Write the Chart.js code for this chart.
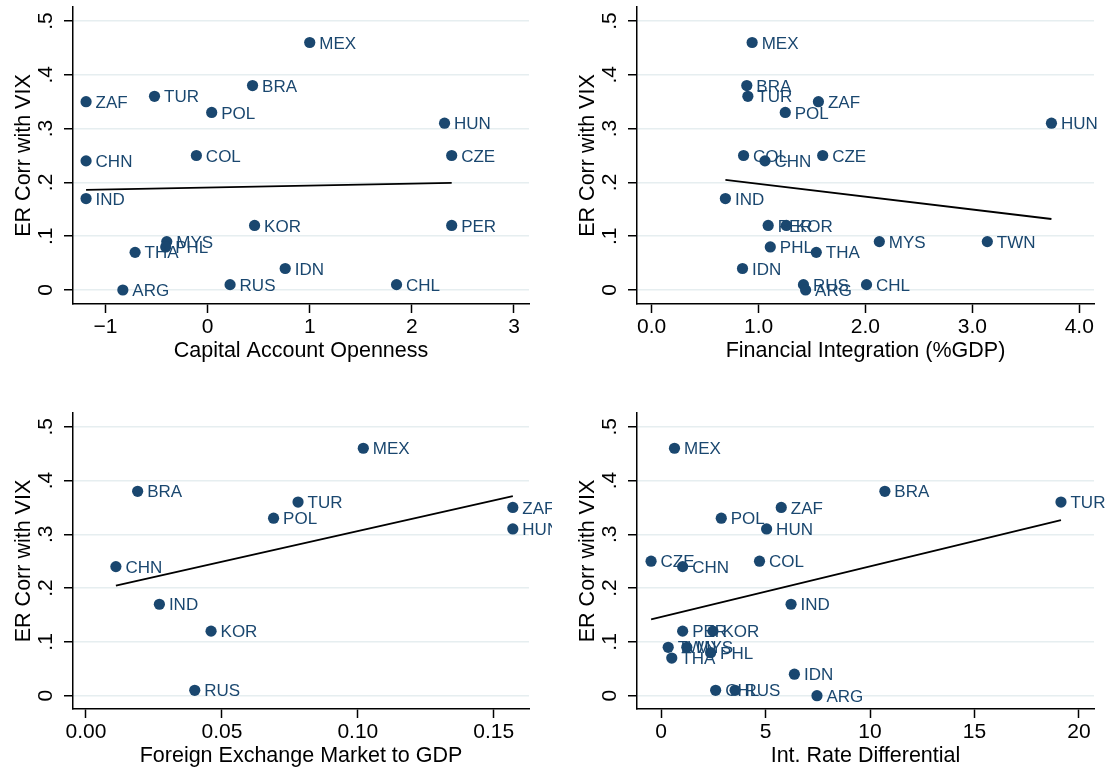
<!DOCTYPE html>
<html>
<head>
<meta charset="utf-8">
<script src="https://cdn.jsdelivr.net/npm/chart.js@4.4.1/dist/chart.umd.min.js"></script>
<style>
  body { margin: 0; background: #fff; }
  #wrap { position: relative; width: 1112px; height: 770px; background: #fff; }
  canvas { position: absolute; }
</style>
</head>
<body>
<div id="wrap">
  <canvas id="c1" width="552" height="385" style="left:0;top:0"></canvas>
  <canvas id="c2" width="556" height="385" style="left:556px;top:0"></canvas>
  <canvas id="c3" width="552" height="385" style="left:0;top:385px"></canvas>
  <canvas id="c4" width="556" height="385" style="left:556px;top:385px"></canvas>
</div>
<script>
// data (null = country not in that panel)
const countries = ['MEX','BRA','TUR','ZAF','POL','HUN','COL','CZE','CHN','IND','KOR','PER','MYS','TWN','PHL','THA','IDN','RUS','CHL','ARG'];
const erCorrVix = [0.46, 0.38, 0.36, 0.35, 0.33, 0.31, 0.25, 0.25, 0.24, 0.17, 0.12, 0.12, 0.09, 0.09, 0.08, 0.07, 0.04, 0.01, 0.01, 0.00];
const capOpen   = [1.00, 0.44, -0.52, -1.19, 0.04, 2.32, -0.11, 2.39, -1.19, -1.19, 0.46, 2.39, -0.40, null, -0.41, -0.71, 0.76, 0.22, 1.85, -0.83];
const finInteg  = [0.94, 0.89, 0.90, 1.56, 1.25, 3.74, 0.86, 1.60, 1.06, 0.69, 1.26, 1.09, 2.13, 3.14, 1.11, 1.54, 0.85, 1.42, 2.01, 1.44];
const fxToGdp   = [0.102, 0.019, 0.078, 0.157, 0.069, 0.157, null, null, 0.011, 0.027, 0.046, null, null, null, null, null, null, 0.040, null, null];
const rateDiff  = [0.64, 10.71, 19.14, 5.75, 2.88, 5.05, 4.71, -0.48, 1.03, 6.22, 2.48, 1.03, 1.23, 0.34, 2.37, 0.51, 6.38, 3.54, 2.61, 7.46];

// fitted line end points
const fit1X = [-1.19, 2.39],  fit1Y = [0.186, 0.199];
const fit2X = [0.69, 3.74],   fit2Y = [0.2045, 0.132];
const fit3X = [0.011, 0.157], fit3Y = [0.2045, 0.371];
const fit4X = [-0.48, 19.14], fit4Y = [0.142, 0.3265];

// tick labels
const yTicks = [0, 0.1, 0.2, 0.3, 0.4, 0.5];
const yTickText = ['0', '.1', '.2', '.3', '.4', '.5'];
const xTicks1 = [-1, 0, 1, 2, 3],        xTickText1 = ['\u22121', '0', '1', '2', '3'];
const xTicks2 = [0, 1, 2, 3, 4],         xTickText2 = ['0.0', '1.0', '2.0', '3.0', '4.0'];
const xTicks3 = [0, 0.05, 0.10, 0.15],   xTickText3 = ['0.00', '0.05', '0.10', '0.15'];
const xTicks4 = [0, 5, 10, 15, 20],      xTickText4 = ['0', '5', '10', '15', '20'];

const navy = '#1a476f';
const gridColor = '#e6eef0';
const fontFam = '"Liberation Sans", Arial, sans-serif';

const stataText = {
  id: 'stataText',
  afterDatasetDraw(chart, args, opts) {
    if (args.index !== 1) return;
    const ctx = chart.ctx;
    const meta = chart.getDatasetMeta(1);
    const ds = chart.data.datasets[1].data;
    ctx.save();
    ctx.fillStyle = navy;
    ctx.font = '17px ' + fontFam;
    ctx.textAlign = 'left';
    ctx.textBaseline = 'alphabetic';
    meta.data.forEach((pt, i) => {
      ctx.fillText(ds[i].label, pt.x + 9.5, pt.y + 6.1);
    });
    ctx.restore();
  },
  afterDraw(chart, args, opts) {
    const { ctx, chartArea: a, scales: { x, y } } = chart;
    ctx.save();
    ctx.fillStyle = '#000';
    ctx.textBaseline = 'alphabetic';
    ctx.textAlign = 'center';
    ctx.font = '21px ' + fontFam;
    opts.xTicks.forEach((v, i) => {
      ctx.fillText(opts.xTickText[i], x.getPixelForValue(v), a.bottom + 29);
    });
    ctx.font = '21.5px ' + fontFam;
    ctx.fillText(opts.xTitle, (a.left + a.right) / 2, a.bottom + 53);
    ctx.font = '21px ' + fontFam;
    yTicks.forEach((v, i) => {
      ctx.save();
      ctx.translate(a.left - 21, y.getPixelForValue(v));
      ctx.rotate(-Math.PI / 2);
      ctx.fillText(yTickText[i], 0, 0);
      ctx.restore();
    });
    ctx.font = '21.5px ' + fontFam;
    ctx.save();
    ctx.translate(a.left - 43, (a.top + a.bottom) / 2);
    ctx.rotate(-Math.PI / 2);
    ctx.fillText('ER Corr with VIX', 0, 0);
    ctx.restore();
    ctx.restore();
  }
};

function makePanel(id, xVals, xMin, xMax, yMin, yMax, xTicks, xTickText, xTitle, fitX, fitY, area) {
  const canvas = document.getElementById(id);
  const W = canvas.width, H = canvas.height;
  const pts = [];
  countries.forEach((c, i) => {
    if (xVals[i] !== null) pts.push({ x: xVals[i], y: erCorrVix[i], label: c });
  });
  const fit = fitX.map((v, i) => ({ x: v, y: fitY[i] }));

  return new Chart(canvas, {
    type: 'scatter',
    data: {
      datasets: [
        { data: fit, showLine: true, borderColor: '#000', borderWidth: 1.8, pointRadius: 0, fill: false },
        { data: pts, pointRadius: 5.6, pointBackgroundColor: navy, pointBorderWidth: 0, showLine: false }
      ]
    },
    options: {
      responsive: false,
      animation: false,
      events: [],
      layout: {
        autoPadding: false,
        padding: { top: area.top, right: W - area.right, bottom: 0, left: 0 }
      },
      plugins: {
        legend: { display: false },
        tooltip: { enabled: false },
        stataText: { xTicks: xTicks, xTickText: xTickText, xTitle: xTitle }
      },
      scales: {
        x: {
          type: 'linear', min: xMin, max: xMax,
          afterBuildTicks: s => { s.ticks = xTicks.map(v => ({ value: v })); },
          afterFit: s => { s.height = H - area.bottom; },
          ticks: { display: false },
          grid: { drawOnChartArea: false, drawTicks: true, tickLength: 9, tickColor: '#000', tickWidth: 1.5 },
          border: { display: true, color: '#000', width: 1.5 }
        },
        y: {
          type: 'linear', min: yMin, max: yMax,
          afterBuildTicks: s => { s.ticks = yTicks.map(v => ({ value: v })); },
          afterFit: s => { s.width = area.left; },
          ticks: { display: false },
          grid: { color: gridColor, lineWidth: 1.5, drawTicks: true, tickLength: 9, tickColor: '#000', tickWidth: 1.5 },
          border: { display: true, color: '#000', width: 1.5 }
        }
      }
    },
    plugins: [stataText]
  });
}

makePanel('c1', capOpen, -1.318, 3.147, -0.026, 0.526, xTicks1, xTickText1,
  'Capital Account Openness', fit1X, fit1Y, { left: 73, top: 7, right: 529, bottom: 304 });
makePanel('c2', finInteg, -0.137, 4.138, -0.026, 0.526, xTicks2, xTickText2,
  'Financial Integration (%GDP)', fit2X, fit2Y, { left: 81, top: 7, right: 538, bottom: 304 });
makePanel('c3', fxToGdp, -0.00478, 0.16295, -0.0247, 0.5255, xTicks3, xTickText3,
  'Foreign Exchange Market to GDP', fit3X, fit3Y, { left: 73, top: 28, right: 529, bottom: 324 });
makePanel('c4', rateDiff, -1.154, 20.72, -0.0247, 0.5255, xTicks4, xTickText4,
  'Int. Rate Differential', fit4X, fit4Y, { left: 81, top: 28, right: 538, bottom: 324 });
</script>
</body>
</html>
